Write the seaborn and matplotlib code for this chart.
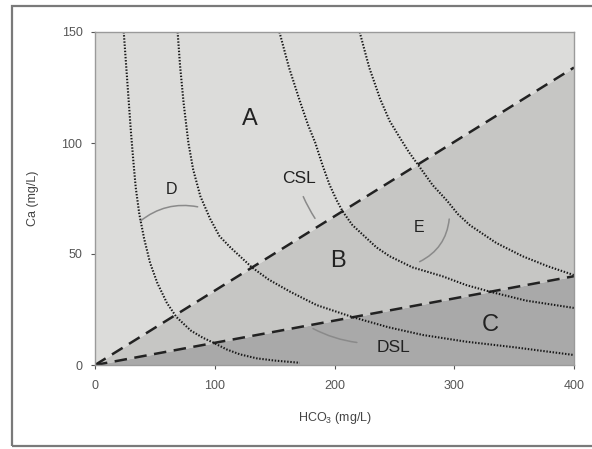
import matplotlib
matplotlib.use("Agg")
import matplotlib.pyplot as plt
import seaborn as sns
import pandas as pd
from matplotlib.patches import Rectangle

# ---- data ----
csl_x = [0, 400]
csl_y = [0, 134]
dsl_x = [0, 400]
dsl_y = [0, 40]

c1_x = [24, 26, 28, 30, 32, 34, 37, 41, 46, 52, 60, 68, 80, 90, 99, 110, 121, 135, 150, 171]
c1_y = [150, 135, 120, 105, 92, 80, 68, 57, 46, 37, 28, 21.6, 15.5, 12.3, 10, 7, 4.8, 3, 2, 1]
c2_x = [69, 71, 74, 78, 82, 88, 96, 104, 113, 121, 131, 145, 163, 185, 215, 245, 274, 310, 350, 400]
c2_y = [150, 135, 118, 100, 88, 76, 66, 58, 53, 49, 44, 38.5, 33, 27, 21.6, 17, 13.5, 10.5, 8, 4.5]
c3_x = [154, 162, 171, 178, 184, 190, 196, 202, 207, 215, 225, 235, 246, 265, 290, 310, 330, 360, 400]
c3_y = [150, 134, 119, 108, 100, 90, 81, 74, 69, 63, 58, 53, 49, 44, 40, 36, 33, 29, 25.7]
c4_x = [221, 229, 238, 246, 255, 262, 270, 282, 294, 303, 313, 324, 335, 346, 357, 378, 400]
c4_y = [150, 134, 120, 110, 102, 96, 90, 81, 74, 68, 63, 59, 55, 52, 49, 44.5, 40.5]

region_labels = ["A", "B", "C"]
region_pos = [(129, 111), (203, 47), (330, 18)]
small_labels = ["D", "E"]
small_pos = [(64, 79), (271, 62)]
line_labels = ["CSL", "DSL"]
line_label_pos = [(170, 84), (249, 7.7)]

x_ticks = [0, 100, 200, 300, 400]
y_ticks = [0, 50, 100, 150]
x_label = "HCO$_3$ (mg/L)"
y_label = "Ca (mg/L)"

sns.set_theme(style="white")
plt.rcParams['font.family'] = ['Liberation Sans', 'DejaVu Sans']
plt.rcParams['mathtext.fontset'] = 'custom'
plt.rcParams['mathtext.rm'] = 'Liberation Sans'

fig = plt.figure(figsize=(5.92, 4.49), dpi=100)
ax = fig.add_axes([95/592, 1-365/449, (574-95)/592, (365-32)/449])

# outer frame
fig.patches.append(Rectangle((12/592, 3/449), 1.2, 440/449, transform=fig.transFigure,
                             fill=False, edgecolor="#7a7a7a", lw=1.6, zorder=0))

# regions
ax.fill_between(csl_x, csl_y, [150, 150], color="#dcdcda", lw=0, zorder=0)
ax.fill_between(csl_x, dsl_y, csl_y, color="#c6c6c4", lw=0, zorder=0)
ax.fill_between(csl_x, [0, 0], dsl_y, color="#a9a9a9", lw=0, zorder=0)

# saturation lines
for xs, ys in [(csl_x, csl_y), (dsl_x, dsl_y)]:
    sns.lineplot(x=xs, y=ys, ax=ax, color="#222222", lw=1.8, dashes=False,
                 estimator=None, sort=False)
    ax.lines[-1].set_dashes((5, 3))

# dotted curves
for xs, ys in [(c1_x, c1_y), (c2_x, c2_y), (c3_x, c3_y), (c4_x, c4_y)]:
    df = pd.DataFrame({"x": xs, "y": ys})
    sns.lineplot(data=df, x="x", y="y", ax=ax, color="#1a1a1a", lw=1.5,
                 estimator=None, sort=False)
    ax.lines[-1].set_dashes((0.7, 0.8))

# labels
for t, (x, y) in zip(region_labels, region_pos):
    ax.text(x, y, t, fontsize=17, ha="center", va="center", color="#222222")
for t, (x, y) in zip(small_labels, small_pos):
    ax.text(x, y, t, fontsize=11.5, ha="center", va="center", color="#222222")
for t, (x, y) in zip(line_labels, line_label_pos):
    ax.text(x, y, t, fontsize=12.5, ha="center", va="center", color="#222222")

# thin connector arcs
arc = dict(arrowstyle="-", color="#8a8a8a", lw=1.1)
ax.annotate("", xy=(36, 64), xytext=(88, 71),
            arrowprops=dict(arc, connectionstyle="arc3,rad=0.25"))
ax.annotate("", xy=(269, 46), xytext=(296, 67),
            arrowprops=dict(arc, connectionstyle="arc3,rad=-0.3"))
ax.annotate("", xy=(185, 65), xytext=(173, 77),
            arrowprops=dict(arc, connectionstyle="arc3,rad=0.05"))
ax.annotate("", xy=(180, 17), xytext=(221, 10),
            arrowprops=dict(arc, connectionstyle="arc3,rad=-0.1"))

ax.set_xlim(0, 400)
ax.set_ylim(0, 150)
ax.set_xticks(x_ticks)
ax.set_yticks(y_ticks)
ax.tick_params(axis="both", labelsize=9, colors="#555555", length=3, width=0.8,
               direction="out", bottom=True, left=True)
ax.tick_params(axis="x", pad=7.5)
ax.tick_params(axis="y", pad=6)
ax.set_xlabel(x_label, fontsize=9, color="#444444", labelpad=13)
ax.set_ylabel(y_label, fontsize=9, color="#444444", labelpad=16)
for s in ax.spines.values():
    s.set_color("#9a9a9a")
    s.set_linewidth(1.0)

fig.savefig("out.png", dpi=100)
